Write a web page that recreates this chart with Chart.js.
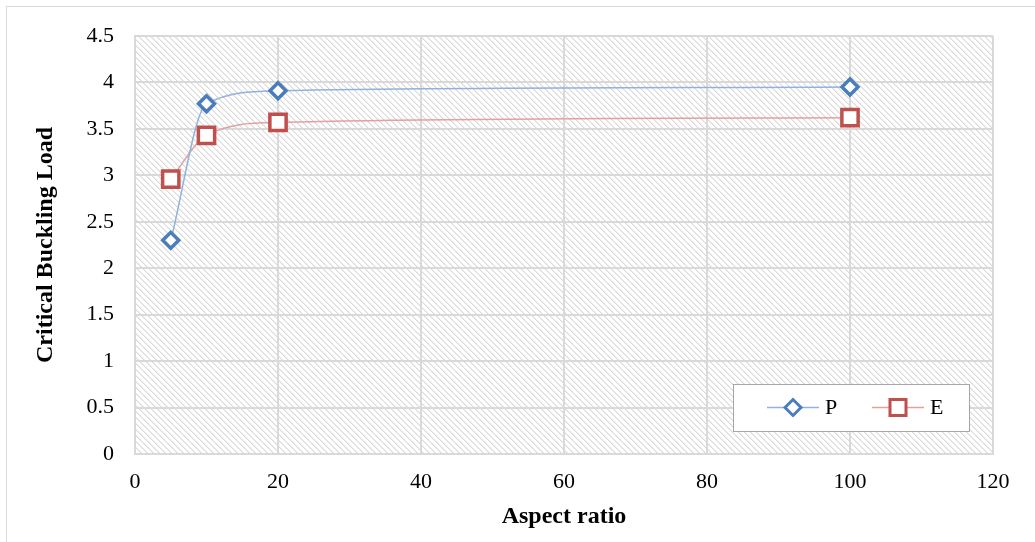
<!DOCTYPE html>
<html lang="en">
<head>
    <meta charset="UTF-8">
    <title>Critical Buckling Load</title>
    <script src="https://cdn.jsdelivr.net/npm/chart.js"></script>
    <style>
        html, body { margin: 0; padding: 0; background: #fff; }
        #wrap { width: 1035px; height: 542px; position: relative; }
    </style>
</head>
<body>
    <div id="wrap">
        <canvas id="myChart" width="1035" height="542"></canvas>
    </div>

    <script>
        // données
        const aspectRatio = [5, 10, 20, 100];
        const valuesP = [2.30, 3.77, 3.91, 3.95];
        const valuesE = [2.96, 3.43, 3.57, 3.62];
        const seriesNames = ['P', 'E'];

        const serifFont = "'Times New Roman', 'Liberation Serif', serif";
        const gridColor = '#d9d9d9';

        // petit motif hachuré pour le fond de la zone de tracé
        function makeHatch() {
            const c = document.createElement('canvas');
            c.width = 6;
            c.height = 6;
            const g = c.getContext('2d');
            g.fillStyle = '#ffffff';
            g.fillRect(0, 0, 6, 6);
            for (let y = 0; y < 6; y++) {
                for (let x = 0; x < 6; x++) {
                    const d = ((x - y) % 6 + 6) % 6;
                    if (d === 0) { g.fillStyle = '#d9d9d9'; g.fillRect(x, y, 1, 1); }
                    else if (d === 1) { g.fillStyle = '#ededed'; g.fillRect(x, y, 1, 1); }
                }
            }
            return c;
        }

        const hatchCanvas = makeHatch();

        const backgroundPlugin = {
            id: 'hatchBg',
            beforeDraw(chart) {
                const ctx = chart.ctx;
                const a = chart.chartArea;
                ctx.save();
                // cadre extérieur
                ctx.strokeStyle = '#d9d9d9';
                ctx.lineWidth = 1;
                ctx.strokeRect(6.5, 6.5, 1040, 545);
                ctx.fillStyle = ctx.createPattern(hatchCanvas, 'repeat');
                ctx.fillRect(a.left, a.top, a.right - a.left, a.bottom - a.top);
                ctx.restore();
            }
        };

        const legendPlugin = {
            id: 'boxLegend',
            afterDraw(chart) {
                const ctx = chart.ctx;
                ctx.save();
                ctx.fillStyle = '#ffffff';
                ctx.fillRect(733, 384, 236, 47);
                ctx.strokeStyle = '#a6a6a6';
                ctx.lineWidth = 1;
                ctx.strokeRect(733.5, 384.5, 236, 47);

                const yMid = 407.5;
                const items = chart.data.datasets;
                const starts = [767, 872];
                items.forEach((ds, i) => {
                    const x0 = starts[i];
                    ctx.strokeStyle = ds.borderColor;
                    ctx.lineWidth = 1.5;
                    ctx.beginPath();
                    ctx.moveTo(x0, yMid);
                    ctx.lineTo(x0 + 52, yMid);
                    ctx.stroke();
                    const cx = x0 + 26;
                    ctx.fillStyle = '#ffffff';
                    ctx.strokeStyle = ds.pointBorderColor;
                    ctx.lineWidth = 3;
                    ctx.beginPath();
                    if (ds.pointStyle === 'rectRot') {
                        const r = 8;
                        ctx.moveTo(cx - r, yMid);
                        ctx.lineTo(cx, yMid - r);
                        ctx.lineTo(cx + r, yMid);
                        ctx.lineTo(cx, yMid + r);
                        ctx.closePath();
                    } else {
                        ctx.rect(cx - 8, yMid - 8, 16, 16);
                    }
                    ctx.fill();
                    ctx.stroke();
                    ctx.fillStyle = '#000000';
                    ctx.font = '22px ' + serifFont;
                    ctx.textBaseline = 'middle';
                    ctx.textAlign = 'left';
                    ctx.fillText(ds.label, x0 + 58, yMid + 1);
                });
                ctx.restore();
            }
        };

        function toPoints(xs, ys) {
            return xs.map((x, i) => ({ x: x, y: ys[i] }));
        }

        const ctx = document.getElementById('myChart').getContext('2d');
        const myChart = new Chart(ctx, {
            type: 'line',
            data: {
                datasets: [{
                    label: seriesNames[0],
                    data: toPoints(aspectRatio, valuesP),
                    borderColor: '#8fb2de',
                    borderWidth: 1.5,
                    pointStyle: 'rectRot',
                    pointRadius: 8,
                    pointBorderWidth: 3.5,
                    pointBackgroundColor: '#ffffff',
                    pointBorderColor: '#4a7ebb',
                    cubicInterpolationMode: 'monotone',
                    fill: false
                }, {
                    label: seriesNames[1],
                    data: toPoints(aspectRatio, valuesE),
                    borderColor: '#e3a09f',
                    borderWidth: 1.5,
                    pointStyle: 'rect',
                    pointRadius: 11.5,
                    pointBorderWidth: 3.5,
                    pointBackgroundColor: '#ffffff',
                    pointBorderColor: '#c0504d',
                    cubicInterpolationMode: 'monotone',
                    fill: false
                }]
            },
            options: {
                responsive: false,
                animation: false,
                devicePixelRatio: 1,
                layout: { padding: { left: 0, top: 36, right: 42, bottom: 0 } },
                plugins: {
                    legend: { display: false },
                    tooltip: { enabled: false }
                },
                scales: {
                    x: {
                        type: 'linear',
                        min: 0,
                        max: 120,
                        ticks: {
                            stepSize: 20,
                            color: '#000000',
                            padding: 15,
                            maxRotation: 0,
                            font: { family: serifFont, size: 22 }
                        },
                        grid: { color: gridColor, lineWidth: 2, drawTicks: false },
                        border: { color: gridColor, width: 2 },
                        title: {
                            display: true,
                            text: 'Aspect ratio',
                            color: '#000000',
                            padding: { top: 11, bottom: 11 },
                            font: { family: serifFont, size: 24, weight: 'bold' }
                        },
                        afterFit(scale) { scale.height = 88; }
                    },
                    y: {
                        min: 0,
                        max: 4.5,
                        ticks: {
                            stepSize: 0.5,
                            color: '#000000',
                            padding: 21,
                            font: { family: serifFont, size: 22 },
                            callback: (v) => String(Number(v))
                        },
                        grid: { color: gridColor, lineWidth: 2, drawTicks: false },
                        border: { color: gridColor, width: 2 },
                        title: {
                            display: true,
                            text: 'Critical Buckling Load',
                            color: '#000000',
                            padding: { top: 31, bottom: 0 },
                            font: { family: serifFont, size: 24, weight: 'bold' }
                        },
                        afterFit(scale) { scale.width = 135; }
                    }
                }
            },
            plugins: [backgroundPlugin, legendPlugin]
        });
    </script>
</body>
</html>
